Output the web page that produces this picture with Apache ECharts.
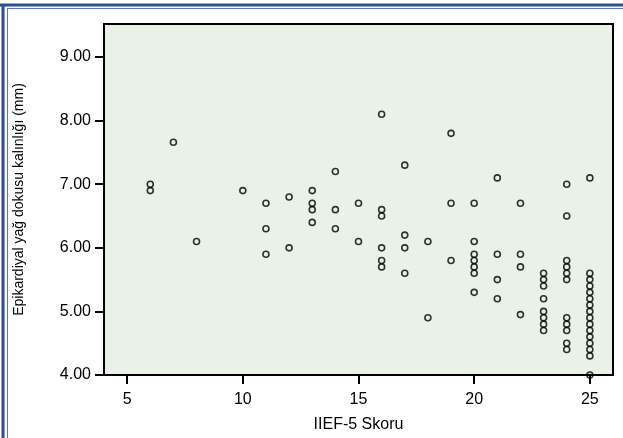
<!DOCTYPE html>
<html>
<head>
<meta charset="utf-8">
<script src="https://cdn.jsdelivr.net/npm/echarts@6/dist/echarts.min.js"></script>
<style>
  html, body { margin: 0; padding: 0; background: #fff; }
  #chart { width: 623px; height: 438px; }
</style>
</head>
<body>
<div id="chart"></div>
<script>
// IIEF-5 skoru (x) ve epikardiyal yağ dokusu kalınlığı (y), hasta başına bir nokta
const scores = [
  6, 6,
  7,
  8,
  10,
  11, 11, 11,
  12, 12,
  13, 13, 13, 13,
  14, 14, 14,
  15, 15,
  16, 16, 16, 16, 16, 16,
  17, 17, 17, 17,
  18, 18,
  19, 19, 19,
  20, 20, 20, 20, 20, 20, 20,
  21, 21, 21, 21,
  22, 22, 22, 22,
  23, 23, 23, 23, 23, 23, 23, 23,
  24, 24, 24, 24, 24, 24, 24, 24, 24, 24, 24,
  25, 25, 25, 25, 25, 25, 25, 25, 25, 25, 25, 25, 25, 25, 25, 25
];
const thickness = [
  7.0, 6.9,
  7.66,
  6.1,
  6.9,
  6.7, 6.3, 5.9,
  6.8, 6.0,
  6.9, 6.7, 6.6, 6.4,
  7.2, 6.6, 6.3,
  6.7, 6.1,
  8.1, 6.6, 6.5, 6.0, 5.8, 5.7,
  7.3, 6.2, 6.0, 5.6,
  6.1, 4.9,
  7.8, 6.7, 5.8,
  6.7, 6.1, 5.9, 5.8, 5.7, 5.6, 5.3,
  7.1, 5.9, 5.5, 5.2,
  6.7, 5.9, 5.7, 4.95,
  5.6, 5.5, 5.4, 5.2, 5.0, 4.9, 4.8, 4.7,
  7.0, 6.5, 5.8, 5.7, 5.6, 5.5, 4.9, 4.8, 4.7, 4.5, 4.4,
  7.1, 5.6, 5.5, 5.4, 5.3, 5.2, 5.1, 5.0, 4.9, 4.8, 4.7, 4.6, 4.5, 4.4, 4.3, 4.0
];
const xTicks = [5, 10, 15, 20, 25];
const yTicks = [4, 5, 6, 7, 8, 9];

const chart = echarts.init(document.getElementById('chart'));

chart.setOption({
  animation: false,
  textStyle: { fontFamily: 'Liberation Sans, Arial, sans-serif', color: '#000' },
  grid: {
    left: 104, right: 10, top: 24, bottom: 60,
    show: true,
    backgroundColor: '#e8f2e8',
    borderColor: '#000',
    borderWidth: 2
  },
  xAxis: {
    type: 'value',
    min: 4,
    max: 26,
    name: 'IIEF-5 Skoru',
    nameLocation: 'middle',
    nameGap: 42,
    nameTextStyle: { fontSize: 16, color: '#000' },
    axisLine: { show: true, onZero: false, lineStyle: { color: '#000', width: 2 } },
    axisTick: { show: true, length: 9, customValues: xTicks, lineStyle: { color: '#000', width: 2 } },
    axisLabel: { customValues: xTicks, fontSize: 16, color: '#000', margin: 17 },
    splitLine: { show: false }
  },
  yAxis: {
    type: 'value',
    min: 4,
    max: 9.52,
    name: 'Epikardiyal yağ dokusu kalınlığı (mm)',
    nameLocation: 'middle',
    nameRotate: 90,
    nameGap: 78,
    nameTextStyle: { fontSize: 14, color: '#000' },
    axisLine: { show: true, onZero: false, lineStyle: { color: '#000', width: 2 } },
    axisTick: { show: true, length: 9, customValues: yTicks, lineStyle: { color: '#000', width: 2 } },
    axisLabel: {
      customValues: yTicks,
      fontSize: 16,
      color: '#000',
      margin: 13,
      formatter: (v) => v.toFixed(2)
    },
    splitLine: { show: false }
  },
  series: [
    {
      type: 'scatter',
      data: scores.map((s, i) => [s, thickness[i]]),
      symbol: 'circle',
      symbolSize: 6,
      clip: false,
      itemStyle: { color: 'rgba(0,0,0,0)', borderColor: '#000', borderWidth: 1.6 },
      emphasis: { disabled: true }
    }
  ],
  graphic: [
    // mavi çerçeve (üst ve sol)
    { type: 'line', shape: { x1: 0, y1: 5, x2: 623, y2: 5 }, style: { stroke: '#2d4c9c', lineWidth: 3 } },
    { type: 'line', shape: { x1: 7, y1: 8.5, x2: 623, y2: 8.5 }, style: { stroke: '#5a76bd', lineWidth: 1 } },
    { type: 'line', shape: { x1: 3, y1: 4, x2: 3, y2: 438 }, style: { stroke: '#2d4c9c', lineWidth: 3 } },
    { type: 'line', shape: { x1: 7.5, y1: 8, x2: 7.5, y2: 438 }, style: { stroke: '#5a76bd', lineWidth: 1 } }
  ]
});
</script>
</body>
</html>
